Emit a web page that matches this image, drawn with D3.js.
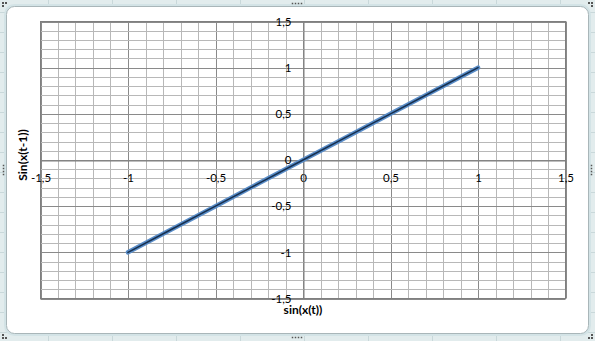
<!DOCTYPE html>
<html><head><meta charset="utf-8">
<script src="https://cdn.jsdelivr.net/npm/d3@7"></script>
<style>
html,body{margin:0;padding:0;background:#e2eced;}
svg{display:block;}
text{font-family:Lato,"Open Sans",sans-serif;}
</style></head>
<body>
<svg id="c" width="595" height="341"></svg>
<script>
// Data: sin(x(t)) vs sin(x(t-1))
const xValues = [-1, -0.75, -0.5, -0.25, 0, 0.25, 0.5, 0.75, 1];
const yValues = [-1, -0.75, -0.5, -0.25, 0, 0.25, 0.5, 0.75, 1];
const xTickValues = [-1.5, -1, -0.5, 0, 0.5, 1, 1.5];
const yTickValues = [-1.5, -1, -0.5, 0, 0.5, 1, 1.5];
const xTickLabels = ["-1,5", "-1", "-0,5", "0", "0,5", "1", "1,5"];
const yTickLabels = ["-1,5", "-1", "-0,5", "0", "0,5", "1", "1,5"];
const xTitle = "sin(x(t))";
const yTitle = "Sin(x(t-1))";

const svg = d3.select("#c");
const W = 595, H = 341;

// spreadsheet background
svg.append("rect").attr("width", W).attr("height", H).attr("fill", "#e2eced");
const bg = svg.append("g").attr("stroke", "#c9d8da").attr("stroke-width", 1);
d3.range(48, W, 64).forEach(x => bg.append("line").attr("x1", x + 0.5).attr("x2", x + 0.5).attr("y1", 0).attr("y2", H));
d3.range(12, H, 20).forEach(y => bg.append("line").attr("y1", y + 0.5).attr("y2", y + 0.5).attr("x1", 0).attr("x2", W));

// chart area
svg.append("rect").attr("x", 5.5).attr("y", 5.5).attr("width", 584).attr("height", 329)
  .attr("rx", 9).attr("fill", "none").attr("stroke", "#d3e3e6").attr("stroke-width", 3);
svg.append("rect").attr("x", 6.5).attr("y", 6.5).attr("width", 582).attr("height", 327)
  .attr("rx", 8).attr("fill", "#ffffff").attr("stroke", "#a9b6b9").attr("stroke-width", 1);

// handles
const hd = svg.append("g").attr("fill", "#555");
function handle(cx, cy, horiz) {
  for (let i = 0; i < 4; i++) {
    const dx = horiz ? (i - 1.5) * 3 : 0, dy = horiz ? 0 : (i - 1.5) * 3;
    hd.append("rect").attr("x", cx + dx - 0.75).attr("y", cy + dy - 0.75).attr("width", 1.5).attr("height", 1.5);
  }
}
handle(297, 3.5, true); handle(297, 337.5, true); handle(3.5, 170, false); handle(591.5, 170, false);
function corner(cx, cy, sx, sy) {
  [[0,0],[3,0],[0,3]].forEach(([a,b]) => hd.append("rect").attr("x", cx + sx*a - 1).attr("y", cy + sy*b - 1).attr("width", 2).attr("height", 2));
}
corner(3, 3, 1, 1); corner(592, 3, -1, 1); corner(3, 338, 1, -1); corner(592, 338, -1, -1);

// scales
const x = d3.scaleLinear().domain([-1.5, 1.5]).range([40.5, 565.5]);
const y = d3.scaleLinear().domain([-1.5, 1.5]).range([298.5, 21.5]);

// gridlines
const minor = d3.range(-15, 16).map(d => d / 10);
const g = svg.append("g");
g.selectAll(".vx").data(minor).join("line")
  .attr("x1", d => Math.round(x(d)) + 0.5).attr("x2", d => Math.round(x(d)) + 0.5)
  .attr("y1", y(1.5)).attr("y2", y(-1.5))
  .attr("stroke", d => (Math.round(d * 10) % 5 === 0) ? "#8a8a8a" : "#b8b8b8").attr("stroke-width", 1);
g.selectAll(".hy").data(minor).join("line")
  .attr("y1", d => Math.round(y(d)) + 0.5).attr("y2", d => Math.round(y(d)) + 0.5)
  .attr("x1", x(-1.5)).attr("x2", x(1.5))
  .attr("stroke", d => (Math.round(d * 10) % 5 === 0) ? "#8a8a8a" : "#b8b8b8").attr("stroke-width", 1);
// plot border
svg.append("rect").attr("x", x(-1.5)).attr("y", y(1.5)).attr("width", x(1.5) - x(-1.5)).attr("height", y(-1.5) - y(1.5))
  .attr("fill", "none").attr("stroke", "#7f7f7f");

// axes
const xAxis = d3.axisBottom(x).tickValues(xTickValues).tickSize(0).tickPadding(13)
  .tickFormat((d, i) => xTickLabels[i]);
const yAxis = d3.axisLeft(y).tickValues(yTickValues).tickSize(0).tickPadding(12)
  .tickFormat((d, i) => yTickLabels[i]);
const gx = svg.append("g").attr("transform", `translate(0,${Math.round(y(0)) + 0.5})`).call(xAxis);
const gy = svg.append("g").attr("transform", `translate(${Math.round(x(0)) + 0.5},0)`).call(yAxis);
[gx, gy].forEach(a => {
  a.select(".domain").attr("stroke", "#7f7f7f");
  a.selectAll("text").attr("font-size", 11.5).attr("fill", "#000").attr("font-family", "Lato, 'Open Sans', sans-serif");
});

// series
const pts = xValues.map((v, i) => [v, yValues[i]]);
const line = d3.line().x(d => x(d[0])).y(d => y(d[1]));
svg.append("path").datum(pts).attr("d", line).attr("fill", "none")
  .attr("stroke", "#5a8dc8").attr("stroke-width", 4.5).attr("stroke-linecap", "round");
svg.append("path").datum(pts).attr("d", line).attr("fill", "none")
  .attr("stroke", "#17304f").attr("stroke-width", 1.6).attr("stroke-linecap", "round");

// titles
svg.append("text").attr("x", 303).attr("y", 314).attr("text-anchor", "middle")
  .attr("font-size", 12).attr("font-weight", "bold").text(xTitle);
svg.append("text").attr("transform", "translate(27,155) rotate(-90)").attr("text-anchor", "middle")
  .attr("font-size", 12).attr("font-weight", "bold").text(yTitle);
</script>
</body></html>
